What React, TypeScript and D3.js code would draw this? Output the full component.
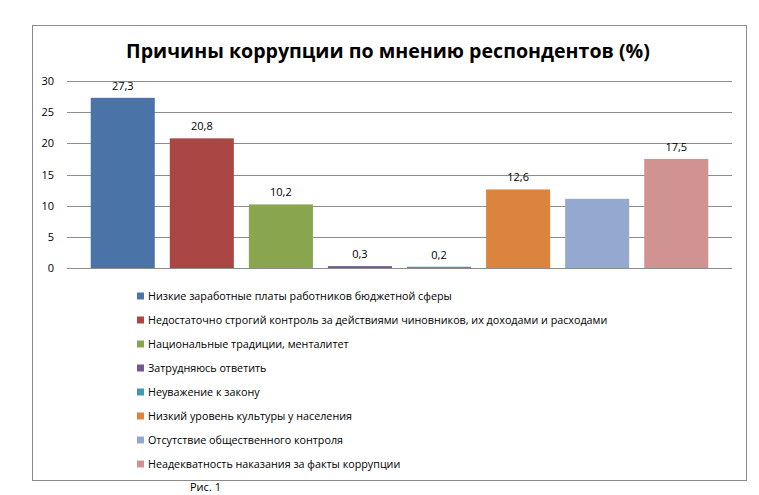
import React from "react";
import * as d3 from "d3";

const categories = [
  "Низкие заработные платы работников бюджетной сферы",
  "Недостаточно строгий контроль за действиями чиновников, их доходами и расходами",
  "Национальные традиции, менталитет",
  "Затрудняюсь ответить",
  "Неуважение к закону",
  "Низкий уровень культуры у населения",
  "Отсутствие общественного контроля",
  "Неадекватность наказания за факты коррупции",
];
const values = [27.3, 20.8, 10.2, 0.3, 0.2, 12.6, 11.1, 17.5];
const showLabel = [true, true, true, true, true, true, false, true];
const colors = ["#4A73A8", "#AA4644", "#89A54E", "#71588F", "#4198AF", "#DB843D", "#93A9CF", "#D19392"];
const yTicks = [0, 5, 10, 15, 20, 25, 30];
const title = "Причины коррупции по мнению респондентов (%)";
const caption = "Рис. 1";

const W = 759;
const H = 495;
const plot = { left: 67, right: 732, top: 81, bottom: 268 };
const font = "'Open Sans', 'DejaVu Sans', sans-serif";

export default function App() {
  const x = d3
    .scaleBand<number>()
    .domain(d3.range(categories.length))
    .range([plot.left, plot.right])
    .paddingInner(0.19)
    .paddingOuter(0.3);
  const y = d3.scaleLinear().domain([0, 30]).range([plot.bottom, plot.top]);
  const fmt = (v: number) => String(v).replace(".", ",");
  const legendY = d3
    .scalePoint<number>()
    .domain(d3.range(categories.length))
    .range([296, 464]);

  return (
    <svg
      width={W}
      height={H}
      style={{ position: "absolute", left: 0, top: 0, background: "#fff" }}
      fontFamily={font}
    >
      <rect x={0} y={0} width={W} height={H} fill="#fff" />
      <rect x={32.5} y={25.5} width={714} height={455} fill="#fff" stroke="#8a8a8a" strokeWidth={1} />
      <text x={388} y={58} textAnchor="middle" fontSize={19.6} fontWeight="bold" fill="#000">
        {title}
      </text>
      {yTicks.map((t) => (
        <g key={t}>
          <line
            x1={plot.left}
            x2={plot.right}
            y1={Math.round(y(t)) + 0.5}
            y2={Math.round(y(t)) + 0.5}
            stroke="#8c8c8c"
            strokeWidth={1}
          />
          <text x={54} y={y(t) + 4} textAnchor="end" fontSize={11} fill="#000">
            {t}
          </text>
        </g>
      ))}
      {values.map((v, i) => (
        <g key={i}>
          <rect
            x={x(i)}
            y={y(v)}
            width={x.bandwidth()}
            height={y(0) - y(v)}
            fill={colors[i]}
          />
          {showLabel[i] && (
            <text
              x={(x(i) as number) + x.bandwidth() / 2}
              y={y(v) - 8}
              textAnchor="middle"
              fontSize={11}
              fill="#000"
            >
              {fmt(v)}
            </text>
          )}
        </g>
      ))}
      {categories.map((c, i) => (
        <g key={c}>
          <rect x={137} y={legendY(i)! - 3.5} width={7} height={7} fill={colors[i]} />
          <text x={148} y={legendY(i)! + 4} fontSize={10.75} fill="#000">
            {c}
          </text>
        </g>
      ))}
      <text x={190} y={491} fontSize={11} fill="#000">
        {caption}
      </text>
    </svg>
  );
}
